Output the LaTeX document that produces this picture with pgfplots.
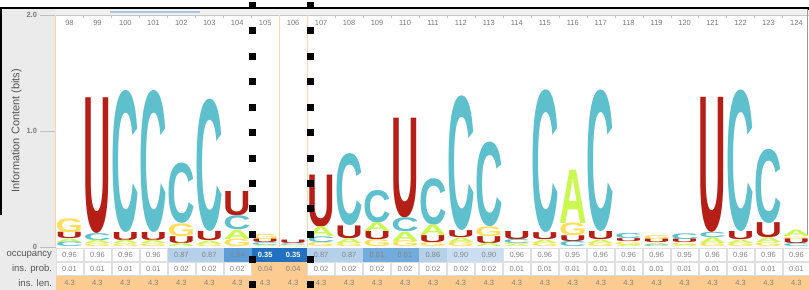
\documentclass[border=0pt]{standalone}
\usepackage{fontspec}
\setmainfont{Liberation Sans}
\newfontfamily\logofont{Liberation Sans}
\usepackage{graphicx}
\usepackage{pgfplots}
\usepackage{pgfplotstable}
\pgfplotsset{compat=1.18}

\definecolor{colA}{HTML}{CBF751}
\definecolor{colC}{HTML}{5EC0CC}
\definecolor{colG}{HTML}{FFDF59}
\definecolor{colU}{HTML}{B51F16}
\definecolor{panel}{HTML}{EBEBEB}
\definecolor{topband}{HTML}{F0F0F0}
\definecolor{orangeline}{HTML}{FDD5A8}
\definecolor{cellorange}{HTML}{FCCB8F}
\definecolor{occA}{HTML}{C9DEF0}
\definecolor{occB}{HTML}{B5D1EA}
\definecolor{occC}{HTML}{5E9ED8}
\definecolor{occE}{HTML}{72ABDC}
\definecolor{occD}{HTML}{2271C0}
\definecolor{tickgray}{HTML}{7A7A7A}
\definecolor{cellgray}{HTML}{858585}
\definecolor{labelgray}{HTML}{555555}
\definecolor{scrollblue}{HTML}{A9C7E7}

\newdimen\unitbit \unitbit=115.9bp
\newcommand\ticksz{\fontsize{7.5bp}{9bp}\selectfont}
\def\logoletter#1/#2\relax{\resizebox*{27.5bp}{#2\unitbit}{\textcolor{col#1}{\logofont\bfseries #1}}}
\pgfdeclareplotmark{cell}{\pgfpathrectangle{\pgfpoint{-13.5bp}{-6.5bp}}{\pgfpoint{27bp}{13bp}}\pgfusepathqfillstroke}

% logo letters, stacked bottom (level A) to top (level D); h = height in bits, m = letter/height
\pgfplotstableread{
x h m
98 0.04 C/0.04
99 0.025 G/0.025
100 0.025 G/0.025
101 0.025 G/0.025
102 0.03 A/0.03
103 0.02 G/0.02
104 0.065 G/0.065
105 0.01 A/0.01
106 0.005 A/0.005
107 0.035 G/0.035
108 0.03 G/0.03
109 0.06 G/0.06
110 0.05 G/0.05
111 0.035 G/0.035
112 0.04 G/0.04
113 0.03 A/0.03
114 0.02 A/0.02
115 0.03 G/0.03
116 0.045 C/0.045
117 0.03 G/0.03
118 0.015 A/0.015
119 0.015 C/0.015
120 0.015 A/0.015
121 0.03 G/0.03
122 0.03 G/0.03
123 0.035 G/0.035
124 0.025 C/0.025
}\levA
\pgfplotstableread{
x h m
98 0.03 A/0.03
99 0.03 A/0.03
100 0.03 A/0.03
101 0.03 A/0.03
102 0.06 U/0.06
103 0.03 A/0.03
104 0.08 A/0.08
105 0.025 C/0.025
106 0.005 G/0.005
107 0.05 C/0.05
108 0.04 A/0.04
109 0.07 U/0.07
110 0.08 A/0.08
111 0.06 U/0.06
112 0.04 A/0.04
113 0.06 U/0.06
114 0.01 G/0.01
115 0.03 A/0.03
116 0.05 U/0.05
117 0.03 A/0.03
118 0.03 G/0.03
119 0.02 A/0.02
120 0.02 G/0.02
121 0.05 A/0.05
122 0.03 A/0.03
123 0.04 A/0.04
124 0.04 U/0.04
}\levB
\pgfplotstableread{
x h m
98 0.055 U/0.055
99 0.06 C/0.06
100 0.07 U/0.07
101 0.07 U/0.07
102 0.11 G/0.11
103 0.08 U/0.08
104 0.12 C/0.12
105 0.03 U/0.03
106 0.015 C/0.015
107 0.085 A/0.085
108 0.11 U/0.11
109 0.075 A/0.075
110 0.12 C/0.12
111 0.09 A/0.09
112 0.06 U/0.06
113 0.085 G/0.085
114 0.035 C/0.035
115 0.06 U/0.06
116 0.11 G/0.11
117 0.07 U/0.07
118 0.025 U/0.025
119 0.03 U/0.03
120 0.03 U/0.03
121 0.045 C/0.045
122 0.07 U/0.07
123 0.13 U/0.13
124 0.02 G/0.02
}\levC
\pgfplotstableread{
x h m
98 0.12 G/0.12
99 1.17 U/1.17
100 1.225 C/1.225
101 1.225 C/1.225
102 0.52 C/0.52
103 1.14 C/1.14
104 0.21 U/0.21
105 0.045 G/0.045
106 0.03 U/0.03
107 0.45 U/0.45
108 0.62 C/0.62
109 0.28 C/0.28
110 0.86 U/0.86
111 0.40 C/0.40
112 1.16 C/1.16
113 0.73 C/0.73
114 0.07 U/0.07
115 1.23 C/1.23
116 0.46 A/0.46
117 1.22 C/1.22
118 0.045 C/0.045
119 0.035 G/0.035
120 0.05 C/0.05
121 1.165 U/1.165
122 1.22 C/1.22
123 0.64 C/0.64
124 0.055 A/0.055
}\levD

% table rows, one table per cell colour
\pgfplotstableread{
x y v
98 2.5 0.96
99 2.5 0.96
100 2.5 0.96
101 2.5 0.96
114 2.5 0.96
115 2.5 0.96
116 2.5 0.95
117 2.5 0.96
118 2.5 0.96
119 2.5 0.96
120 2.5 0.95
121 2.5 0.96
122 2.5 0.96
123 2.5 0.96
124 2.5 0.96
}\occW
\pgfplotstableread{
x y v
112 2.5 0.90
113 2.5 0.90
}\occA
\pgfplotstableread{
x y v
102 2.5 0.87
103 2.5 0.87
107 2.5 0.87
108 2.5 0.87
111 2.5 0.86
}\occB
\pgfplotstableread{
x y v
104 2.5 0.84
}\occC
\pgfplotstableread{
x y v
109 2.5 0.81
110 2.5 0.81
}\occE
\pgfplotstableread{
x y v
105 2.5 0.35
106 2.5 0.35
}\occD
\pgfplotstableread{
x y v
98 1.5 0.01
99 1.5 0.01
100 1.5 0.01
101 1.5 0.01
102 1.5 0.02
103 1.5 0.02
104 1.5 0.02
107 1.5 0.02
108 1.5 0.02
109 1.5 0.02
110 1.5 0.02
111 1.5 0.02
112 1.5 0.02
113 1.5 0.02
114 1.5 0.01
115 1.5 0.01
116 1.5 0.01
117 1.5 0.01
118 1.5 0.01
119 1.5 0.01
120 1.5 0.01
121 1.5 0.01
122 1.5 0.01
123 1.5 0.01
124 1.5 0.01
}\inspW
\pgfplotstableread{
x y v
105 1.5 0.04
106 1.5 0.04
}\inspO
\pgfplotstableread{
x y v
98 0.5 4.3
99 0.5 4.3
100 0.5 4.3
101 0.5 4.3
102 0.5 4.3
103 0.5 4.3
104 0.5 4.3
105 0.5 4.3
106 0.5 4.3
107 0.5 4.3
108 0.5 4.3
109 0.5 4.3
110 0.5 4.3
111 0.5 4.3
112 0.5 4.3
113 0.5 4.3
114 0.5 4.3
115 0.5 4.3
116 0.5 4.3
117 0.5 4.3
118 0.5 4.3
119 0.5 4.3
120 0.5 4.3
121 0.5 4.3
122 0.5 4.3
123 0.5 4.3
124 0.5 4.3
}\insl

\pgfplotsset{
  overlaybox/.style={xmin=0,xmax=809,ymin=0,ymax=290,y dir=reverse,
    width=809bp,height=290bp,scale only axis,hide axis,
    at={(0bp,0bp)},anchor=south west,clip=false},
  plotbox/.style={at={(55.5bp,43.2bp)},anchor=south west,scale only axis,
    width=754.92bp,height=231.8bp,xmin=97.5,xmax=124.5,ymin=0,ymax=2,clip=false},
  cells/.style 2 args={only marks, mark=cell, mark options={fill=#1, draw=#2},
    point meta=explicit symbolic, nodes near coords,
    every node near coord/.append style={anchor=center, font=\ticksz, text=cellgray}},
  letters/.style={draw=none, mark=none, point meta=explicit symbolic,
    nodes near coords={\expandafter\logoletter\pgfplotspointmeta\relax},
    every node near coord/.append style={anchor=north, inner sep=0pt, outer sep=0pt}},
}

\begin{document}
\begin{tikzpicture}
\path[use as bounding box] (0,0) rectangle (809bp,290bp);
\clip (0,0) rectangle (809bp,290bp);

% backgrounds
\begin{axis}[overlaybox]
\addplot[fill=white, draw=none] coordinates {(0,0) (809,0) (809,290) (0,290)} -- cycle;
\addplot[fill=panel, draw=none] coordinates {(0,8.5) (55.5,8.5) (55.5,290) (0,290)} -- cycle;
\addplot[fill=topband, draw=none] coordinates {(55.5,8.5) (809,8.5) (809,15) (55.5,15)} -- cycle;
\addplot[scrollblue, line width=2bp] coordinates {(110,12) (200,12)};
\end{axis}

% frame, ticks, labels
\begin{axis}[plotbox,
  axis x line*=top, axis y line*=left,
  x axis line style={-, draw=gray!45},
  y axis line style={-, draw=orangeline},
  xtick={98,...,124}, minor x tick num=1, tick align=inside,
  major tick length=15bp, minor tick length=3.5bp,
  major x tick style={draw=none}, minor x tick style={draw=gray!50},
  xticklabel style={font=\ticksz, text=tickgray, anchor=north, yshift=-1.5bp},
  ytick={0,1,2}, yticklabels={0,1.0,2.0},
  ytick style={draw=gray!50, xshift=-15bp},
  yticklabel style={font=\ticksz\bfseries, text=tickgray, xshift=-15bp},
  ylabel={Information Content (bits)},
  ylabel style={font=\fontsize{11bp}{13bp}\selectfont, text=labelgray,
    at={(axis description cs:-0.0517,0.5)}, anchor=center},
  /pgf/number format/assume math mode=true,
]
\addplot[orangeline, line width=0.9bp] coordinates {(105.5,0) (105.5,2)};
\addplot[orangeline, line width=0.9bp] coordinates {(106.5,0) (106.5,2)};
\end{axis}

% logo letters
\begin{axis}[plotbox, hide axis, stack plots=y]
\addplot[letters] table[x=x,y=h,meta=m]{\levA};
\addplot[letters] table[x=x,y=h,meta=m]{\levB};
\addplot[letters] table[x=x,y=h,meta=m]{\levC};
\addplot[letters] table[x=x,y=h,meta=m]{\levD};
\end{axis}

% table rows
\begin{axis}[at={(55.5bp,0bp)}, anchor=south west, scale only axis,
  width=754.92bp, height=42bp, xmin=97.5, xmax=124.5, ymin=0, ymax=3,
  axis line style={draw=none}, xtick=\empty,
  ytick={0.5,1.5,2.5}, yticklabels={ins. len.,ins. prob.,occupancy},
  ytick style={draw=none}, major tick length=0pt,
  yticklabel style={font=\fontsize{9.5bp}{11bp}\selectfont, text=labelgray},
  clip=false,
]
\addplot[cells={white}{gray!25}] table[x=x,y=y,meta=v]{\occW};
\addplot[cells={occA}{occA}] table[x=x,y=y,meta=v]{\occA};
\addplot[cells={occB}{occB}] table[x=x,y=y,meta=v]{\occB};
\addplot[cells={occC}{occC}] table[x=x,y=y,meta=v]{\occC};
\addplot[cells={occE}{occE}] table[x=x,y=y,meta=v]{\occE};
\addplot[cells={occD}{occD}, every node near coord/.append style={text=white, font=\ticksz\bfseries}] table[x=x,y=y,meta=v]{\occD};
\addplot[cells={white}{gray!25}] table[x=x,y=y,meta=v]{\inspW};
\addplot[cells={cellorange}{cellorange}] table[x=x,y=y,meta=v]{\inspO};
\addplot[cells={cellorange}{cellorange}] table[x=x,y=y,meta=v]{\insl};
\end{axis}

% overlay decorations
\begin{axis}[overlaybox]
\addplot[black, line width=2bp] coordinates {(0,7.5) (807.5,7.5) (807.5,10)};
\addplot[black, line width=1.5bp] coordinates {(0.75,7.5) (0.75,215)};
\addplot[gray!80, line width=0.8bp] coordinates {(807.5,9) (807.5,235)};
\addplot[only marks, mark=square*, mark size=3bp, black] coordinates {
(252,5) (252,30.5) (252,56) (252,81.5) (252,107) (252,132.5) (252,158) (252,183) (252,208.5) (252,234) (252,259) (252,284.5)
(310.5,5) (310.5,30.5) (310.5,56) (310.5,81.5) (310.5,107) (310.5,132.5) (310.5,158) (310.5,183) (310.5,208.5) (310.5,234) (310.5,259) (310.5,284.5)};
\end{axis}
\end{tikzpicture}
\end{document}
